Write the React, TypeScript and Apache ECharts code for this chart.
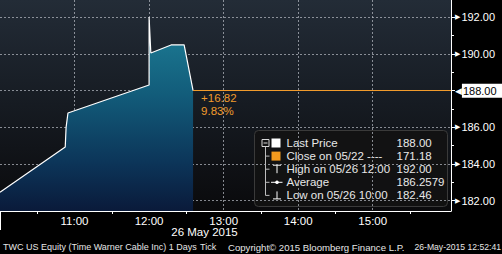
import React, { useEffect, useRef } from 'react';
import * as echarts from 'echarts';

// ---- data (minutes since midnight, prices) ----
const times = [600, 652.5, 653.2, 654.7, 720, 720, 721.4, 737.7, 748.2, 755.4];
const prices = [182.46, 184.93, 186.0, 186.78, 188.31, 192.0, 190.05, 190.49, 190.49, 188.0];

const xLabelValues = [660, 720, 780, 840, 900];
const yLabelValues = [182, 184, 186, 188, 190, 192];
const yMinorValues = [183, 185, 187, 189, 191];

const lastPrice = 188.0;
const changeAbs = '+16.82';
const changePct = '9.83%';

const legendLabels = ['Last Price', 'Close on 05/22 ----', 'High on 05/26 12:00', 'Average', 'Low on 05/26 10:00'];
const legendValues = ['188.00', '171.18', '192.00', '186.2579', '182.46'];

const dateLabel = '26 May 2015';
const footerParts = [
  'TWC US Equity (Time Warner Cable Inc) 1 Days',
  'Tick',
  'Copyright\u00A9 2015 Bloomberg Finance L.P.',
  '26-May-2015 12:52:41',
];

const FONT = '"Liberation Sans", Arial, sans-serif';
const ORANGE = '#f19b2c';
const GRID_LINE = { color: 'rgba(180,185,192,0.72)', type: [2, 2] as any, width: 1 };

function fmtTime(v: number) {
  const h = Math.floor(v / 60);
  const m = Math.round(v % 60);
  return `${h}:${m < 10 ? '0' + m : m}`;
}

function buildLegend() {
  const left = 254;
  const top = 130;
  const rowY = legendLabels.map((_, i) => 12.5 + 13.1 * i);
  const children: any[] = [];
  children.push({
    type: 'rect',
    shape: { x: 0, y: 0, width: 193, height: 76, r: 4 },
    style: { fill: 'rgba(18,18,18,0.88)', stroke: '#3a3a3a', lineWidth: 1 },
  });
  // tree
  children.push({ type: 'rect', shape: { x: 7.5, y: rowY[0] - 3.5, width: 7, height: 7 }, style: { fill: 'none', stroke: '#d8d8d8', lineWidth: 1 } });
  children.push({ type: 'line', shape: { x1: 9, y1: rowY[0], x2: 13, y2: rowY[0] }, style: { stroke: '#d8d8d8', lineWidth: 1 } });
  children.push({ type: 'line', shape: { x1: 11, y1: rowY[0] + 3.5, x2: 11, y2: rowY[4] }, style: { stroke: '#bdbdbd', lineWidth: 1 } });
  for (let i = 1; i < rowY.length; i++) {
    children.push({ type: 'line', shape: { x1: 11, y1: rowY[i], x2: 15, y2: rowY[i] }, style: { stroke: '#bdbdbd', lineWidth: 1 } });
  }
  // icons
  children.push({ type: 'rect', shape: { x: 17, y: rowY[0] - 4.5, width: 9, height: 9 }, style: { fill: '#ffffff' } });
  children.push({ type: 'rect', shape: { x: 17, y: rowY[1] - 4.5, width: 9, height: 9 }, style: { fill: '#f39a1e' } });
  children.push({ type: 'line', shape: { x1: 18.5, y1: rowY[2] - 4, x2: 26.5, y2: rowY[2] - 4 }, style: { stroke: '#fff', lineWidth: 1 } });
  children.push({ type: 'line', shape: { x1: 22.5, y1: rowY[2] - 4, x2: 22.5, y2: rowY[2] + 4 }, style: { stroke: '#fff', lineWidth: 1 } });
  children.push({ type: 'line', shape: { x1: 16.5, y1: rowY[3], x2: 28, y2: rowY[3] }, style: { stroke: '#fff', lineWidth: 1 } });
  children.push({ type: 'circle', shape: { cx: 22.5, cy: rowY[3], r: 1.8 }, style: { fill: '#fff' } });
  children.push({ type: 'line', shape: { x1: 22.5, y1: rowY[4] - 4, x2: 22.5, y2: rowY[4] + 3.5 }, style: { stroke: '#fff', lineWidth: 1 } });
  children.push({ type: 'line', shape: { x1: 18.5, y1: rowY[4] + 3.5, x2: 26.5, y2: rowY[4] + 3.5 }, style: { stroke: '#fff', lineWidth: 1 } });
  legendLabels.forEach((t, i) => {
    children.push({
      type: 'text', x: 32, y: rowY[i],
      style: { text: t, fill: '#e8e8e8', fontSize: 11.5, fontFamily: FONT, verticalAlign: 'middle', align: 'left' },
    });
    children.push({
      type: 'text', x: 142, y: rowY[i],
      style: { text: legendValues[i], fill: '#e8e8e8', fontSize: 11.5, fontFamily: FONT, verticalAlign: 'middle', align: 'left' },
    });
  });
  return { type: 'group', left, top, z: 100, children };
}

const footerStyles = [
  { x: 3, align: 'left', size: 9 },
  { x: 200, align: 'left', size: 9 },
  { x: 228, align: 'left', size: 9.6 },
  { x: 501, align: 'right', size: 8.6 },
];

const option: any = {
  animation: false,
  backgroundColor: '#000',
  grid: {
    left: 0, top: 0, width: 451, height: 211, show: true, borderWidth: 0,
    containLabel: false,
    outerBoundsMode: 'none',
    backgroundColor: {
      type: 'linear', x: 0, y: 0, x2: 0, y2: 1,
      colorStops: [
        { offset: 0, color: '#232c37' },
        { offset: 0.5, color: '#161b22' },
        { offset: 1, color: '#0a0a0c' },
      ],
    },
  },
  xAxis: {
    type: 'value', min: 600, max: 963, interval: 60, z: 3,
    axisLine: { show: true, lineStyle: { color: '#fff', width: 1 } },
    axisTick: { show: false, customValues: xLabelValues },
    minorTick: { show: true, splitNumber: 2, length: 3, lineStyle: { color: '#fff', width: 1 } },
    axisLabel: {
      customValues: xLabelValues, formatter: (v: number) => fmtTime(v),
      color: '#fff', fontSize: 11.5, fontFamily: FONT, margin: 4,
    },
    splitLine: { show: true, lineStyle: GRID_LINE },
  },
  yAxis: [
    {
      type: 'value', position: 'right', min: 181.44, max: 192.94, z: 3,
      axisLine: { show: true, lineStyle: { color: '#fff', width: 1 } },
      axisTick: { show: true, customValues: yLabelValues, length: 4, lineStyle: { color: '#fff', width: 1 } },
      axisLabel: {
        customValues: yLabelValues, margin: 4,
        formatter: (v: number) => (v === lastPrice ? `{hp|\u25C0}{hl|${v.toFixed(2)}}` : `{t|\u25B6}{v|${v.toFixed(2)}}`),
        rich: {
          t: { color: '#fff', fontSize: 7, fontFamily: '"DejaVu Sans"', padding: [0, 1, 0, 0] },
          v: { color: '#fff', fontSize: 11, fontFamily: FONT },
          hp: { color: '#fff', fontSize: 9, fontFamily: '"DejaVu Sans"' },
          hl: { color: '#000', backgroundColor: '#fff', fontSize: 11, fontFamily: FONT, padding: [2, 12, 1, 1] },
        },
      },
      splitLine: { show: true, lineStyle: GRID_LINE },
    },
    {
      type: 'value', position: 'right', min: 181.44, max: 192.94, z: 3,
      axisLine: { show: false },
      axisTick: { show: true, customValues: yMinorValues, length: 3, lineStyle: { color: '#fff', width: 1 } },
      axisLabel: { show: false },
      splitLine: { show: false },
    },
  ],
  series: [
    {
      type: 'line',
      yAxisIndex: 0,
      data: times.map((t, i) => [t, prices[i]]),
      showSymbol: false,
      symbol: 'none',
      lineStyle: { color: '#fff', width: 1.2 },
      areaStyle: {
        origin: 'start',
        color: {
          type: 'linear', x: 0, y: 0, x2: 0, y2: 1,
          colorStops: [
            { offset: 0, color: '#1e8098' },
            { offset: 0.4, color: '#125c7a' },
            { offset: 0.75, color: '#0c3559' },
            { offset: 1, color: '#0a1a3a' },
          ],
        },
        opacity: 1,
      },
      markLine: {
        silent: true,
        symbol: 'none',
        lineStyle: { color: ORANGE, width: 1.2, type: 'solid' },
        label: {
          show: true,
          position: 'insideStartBottom',
          distance: [8, 1],
          formatter: `${changeAbs}\n${changePct}`,
          color: ORANGE,
          fontSize: 11.5,
          lineHeight: 13,
          fontFamily: FONT,
          align: 'left',
        },
        data: [[{ coord: [times[times.length - 1], lastPrice] }, { coord: [963, lastPrice] }]],
      },
    },
  ],
  graphic: [
    buildLegend(),
    { type: 'line', shape: { x1: 0.5, y1: 211, x2: 0.5, y2: 230 }, style: { stroke: '#fff', lineWidth: 1 }, z: 50 },
    {
      type: 'text', x: 204.5, y: 232,
      style: { text: dateLabel, fill: '#fff', fontSize: 11.5, fontFamily: FONT, align: 'center', verticalAlign: 'middle' },
    },
    ...footerParts.map((t, i) => ({
      type: 'text', x: footerStyles[i].x, y: 247,
      style: { text: t, fill: '#e6e6e6', fontSize: footerStyles[i].size, fontFamily: FONT, align: footerStyles[i].align, verticalAlign: 'middle' },
    })),
  ],
};

export default function App() {
  const ref = useRef<HTMLDivElement>(null);
  useEffect(() => {
    const chart = echarts.init(ref.current as HTMLDivElement, null, { renderer: 'svg', width: 502, height: 254 });
    chart.setOption(option);
    return () => chart.dispose();
  }, []);
  return (
    <div
      ref={ref}
      style={{ position: 'fixed', left: 0, top: 0, width: 502, height: 254, background: '#000' }}
    />
  );
}
